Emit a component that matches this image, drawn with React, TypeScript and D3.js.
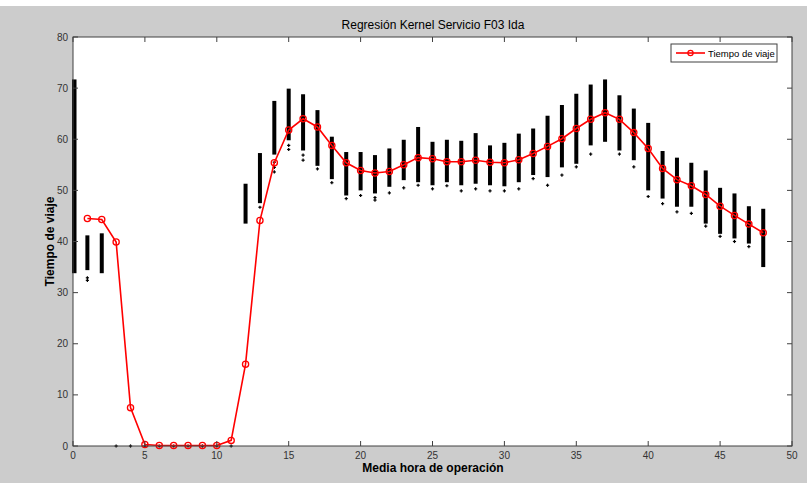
import React from "react";
import * as d3 from "d3";

// half-hour index of every scatter column
const colX = [0, 1, 2, 12, 13, 14, 15, 16, 17, 18, 19, 20, 21, 22, 23, 24, 25, 26, 27, 28, 29, 30, 31, 32, 33, 34, 35, 36, 37, 38, 39, 40, 41, 42, 43, 44, 45, 46, 47, 48];
// top and bottom of the dense part of each column
const colHi = [71.7, 41.2, 41.6, 51.3, 57.3, 67.5, 69.9, 68.8, 65.7, 60.5, 57.5, 57.5, 56.9, 58.2, 59.9, 62.4, 59.5, 59.9, 59.7, 61.2, 58.8, 59.3, 61.1, 62.1, 64.6, 66.7, 68.9, 70.7, 71.7, 68.6, 66.0, 63.2, 57.7, 56.4, 55.4, 53.9, 50.5, 49.4, 46.9, 46.4];
const colLo = [33.8, 34.4, 33.8, 43.5, 47.5, 57.0, 59.8, 57.8, 54.8, 52.2, 49.0, 50.0, 49.4, 50.7, 52.0, 51.6, 51.0, 51.6, 51.0, 51.3, 51.0, 50.8, 51.6, 53.0, 52.6, 54.5, 55.2, 58.8, 59.5, 57.8, 55.9, 50.0, 48.4, 46.8, 46.8, 43.5, 41.5, 40.6, 39.6, 35.0];
// loose points below the columns and the zero readings
const outX = [1, 1, 13, 14, 14, 14, 15, 15, 16, 16, 17, 18, 19, 20, 21, 21, 22, 23, 24, 25, 26, 27, 28, 29, 30, 31, 32, 33, 34, 35, 36, 38, 39, 40, 41, 42, 43, 44, 45, 46, 47, 3, 4, 5, 6, 7, 8, 9, 10, 11];
const outY = [32.4, 32.9, 46.7, 55.5, 54.5, 53.6, 58.8, 58.0, 56.9, 55.9, 54.2, 51.5, 48.4, 49.0, 48.1, 48.6, 49.5, 50.5, 51.0, 50.3, 50.9, 49.9, 50.3, 49.9, 49.9, 50.3, 52.3, 51.0, 53.0, 54.6, 57.1, 57.1, 54.6, 48.8, 47.4, 45.8, 45.5, 43.0, 41.0, 40.0, 39.0, 0, 0, 0, 0, 0, 0, 0, 0, 0];

// kernel regression curve
const fitX = [1, 2, 3, 4, 5, 6, 7, 8, 9, 10, 11, 12, 13, 14, 15, 16, 17, 18, 19, 20, 21, 22, 23, 24, 25, 26, 27, 28, 29, 30, 31, 32, 33, 34, 35, 36, 37, 38, 39, 40, 41, 42, 43, 44, 45, 46, 47, 48];
const fitY = [44.5, 44.3, 39.9, 7.5, 0.3, 0.1, 0.1, 0.1, 0.1, 0.1, 1.1, 16.0, 44.1, 55.4, 61.8, 64.0, 62.4, 58.8, 55.4, 53.9, 53.4, 53.7, 55.0, 56.4, 56.2, 55.6, 55.6, 55.9, 55.5, 55.4, 56.0, 57.2, 58.6, 60.1, 62.1, 63.9, 65.2, 63.9, 61.3, 58.2, 54.3, 52.1, 50.9, 49.2, 46.9, 45.1, 43.4, 41.7];

const xTicks = [0, 5, 10, 15, 20, 25, 30, 35, 40, 45, 50];
const yTicks = [0, 10, 20, 30, 40, 50, 60, 70, 80];

const W = 807, H = 483;
const m = { left: 73, right: 792, top: 37, bottom: 446 };

const App = () => {
    const x = d3.scaleLinear().domain([0, 50]).range([m.left, m.right]);
    const y = d3.scaleLinear().domain([0, 80]).range([m.bottom, m.top]);
    const line = d3.line<number>().x((d, i) => x(fitX[i])).y((d) => y(d));
    const red = "#ff0000";
    const axisCol = "#404040";
    const font = "'Liberation Sans', Arial, sans-serif";

    return (
        <svg width={W} height={H} style={{ position: "absolute", left: 0, top: 0 }} fontFamily={font}>
            <rect x={0} y={0} width={W} height={H} fill="#cccccc" />
            <rect x={0} y={0} width={W} height={6} fill="#ffffff" />
            <rect x={m.left} y={m.top} width={m.right - m.left} height={m.bottom - m.top} fill="#ffffff" />

            <defs>
                <clipPath id="plot">
                    <rect x={m.left - 1} y={m.top} width={m.right - m.left + 2} height={m.bottom - m.top + 2} />
                </clipPath>
            </defs>

            {/* scatter columns */}
            <g clipPath="url(#plot)">
                {colX.map((c, i) => (
                    <rect key={i} x={x(c) - (c === 0 ? 1 : 2)} width={c === 0 ? 4.5 : 4}
                        y={y(colHi[i])} height={y(colLo[i]) - y(colHi[i])} fill="#000" />
                ))}
                {outX.map((c, i) => (
                    <g key={i} stroke="#000" strokeWidth={1.2}>
                        <line x1={x(c) - 1.6} x2={x(c) + 1.6} y1={y(outY[i])} y2={y(outY[i])} />
                        <line x1={x(c)} x2={x(c)} y1={y(outY[i]) - 1.6} y2={y(outY[i]) + 1.6} />
                    </g>
                ))}
            </g>

            {/* regression */}
            <path d={line(fitY) || ""} fill="none" stroke={red} strokeWidth={1.6} />
            {fitY.map((v, i) => (
                <circle key={i} cx={x(fitX[i])} cy={y(v)} r={3.1} fill="none" stroke={red} strokeWidth={1.3} />
            ))}

            {/* axes box and ticks */}
            <rect x={m.left} y={m.top} width={m.right - m.left} height={m.bottom - m.top} fill="none" stroke={axisCol} strokeWidth={1} />
            {xTicks.map((t) => (
                <g key={t}>
                    <line x1={x(t)} x2={x(t)} y1={m.bottom} y2={m.bottom - 5} stroke={axisCol} />
                    <line x1={x(t)} x2={x(t)} y1={m.top} y2={m.top + 5} stroke={axisCol} />
                    <text x={x(t)} y={m.bottom + 13} textAnchor="middle" fontSize={10} fill="#333">{t}</text>
                </g>
            ))}
            {yTicks.map((t) => (
                <g key={t}>
                    <line x1={m.left} x2={m.left + 5} y1={y(t)} y2={y(t)} stroke={axisCol} />
                    <line x1={m.right} x2={m.right - 5} y1={y(t)} y2={y(t)} stroke={axisCol} />
                    <text x={m.left - 5} y={y(t) + 3.5} textAnchor="end" fontSize={10} fill="#333">{t}</text>
                </g>
            ))}

            <text x={433} y={29} textAnchor="middle" fontSize={12} fill="#000">Regresión Kernel Servicio F03 Ida</text>
            <text x={433} y={472} textAnchor="middle" fontSize={12} fontWeight="bold" fill="#000">Media hora de operación</text>
            <text transform={`translate(54 ${(m.top + m.bottom) / 2}) rotate(-90)`} textAnchor="middle" fontSize={12} fontWeight="bold" fill="#000">Tiempo de viaje</text>

            {/* legend */}
            <g>
                <rect x={671} y={44} width={106} height={18} fill="#fff" stroke={axisCol} strokeWidth={1} />
                <line x1={676} x2={705} y1={53} y2={53} stroke={red} strokeWidth={1.6} />
                <circle cx={690.5} cy={53} r={2.6} fill="none" stroke={red} strokeWidth={1.2} />
                <text x={708} y={56.5} fontSize={9.5} fill="#000">Tiempo de viaje</text>
            </g>
        </svg>
    );
};

export default App;
